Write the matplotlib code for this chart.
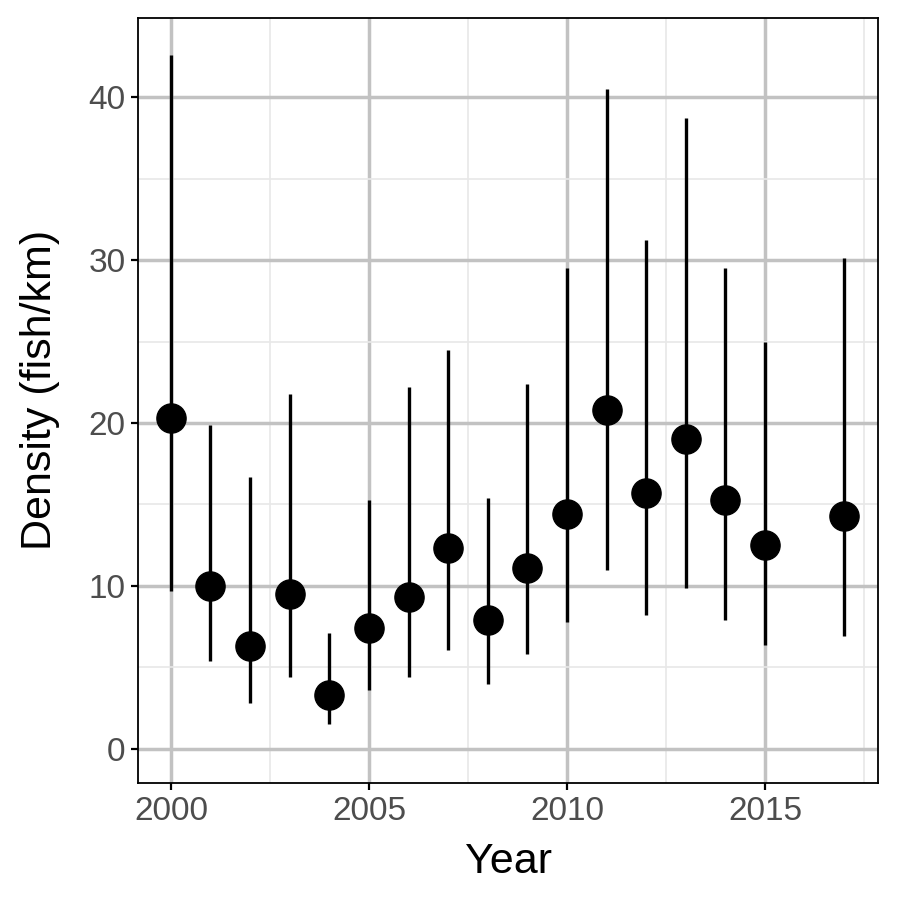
import matplotlib
matplotlib.use("Agg")
import matplotlib.pyplot as plt
from matplotlib.ticker import MultipleLocator

years = [2000, 2001, 2002, 2003, 2004, 2005, 2006, 2007, 2008, 2009, 2010, 2011, 2012, 2013, 2014, 2015, 2017]
density = [20.3, 10.0, 6.3, 9.5, 3.3, 7.4, 9.3, 12.3, 7.9, 11.1, 14.4, 20.8, 15.7, 19.0, 15.3, 12.5, 14.3]
upper = [42.6, 19.9, 16.7, 21.8, 7.1, 15.3, 22.2, 24.5, 15.4, 22.4, 29.5, 40.5, 31.2, 38.7, 29.5, 25.0, 30.1]
lower = [9.7, 5.4, 2.8, 4.4, 1.5, 3.6, 4.4, 6.1, 4.0, 5.8, 7.8, 11.0, 8.2, 9.9, 7.9, 6.4, 6.9]

plt.rcParams['font.family'] = ['Liberation Sans', 'DejaVu Sans']

fig = plt.figure(figsize=(8.99, 8.99), dpi=100)
ax = fig.add_axes([138/899, 1-783/899, 740/899, 765/899])

ax.vlines(years, lower, upper, color='black', linewidth=2.4, zorder=3)
ax.plot(years, density, 'o', color='black', markersize=21, zorder=4)

ax.set_xlim(1999.17, 2017.85)
ax.set_ylim(-2.09, 44.85)
ax.xaxis.set_major_locator(MultipleLocator(5))
ax.xaxis.set_minor_locator(MultipleLocator(2.5))
ax.yaxis.set_major_locator(MultipleLocator(10))
ax.yaxis.set_minor_locator(MultipleLocator(5))
ax.grid(which='major', color='#c2c2c2', linewidth=2.5, zorder=0)
ax.grid(which='minor', color='#e8e8e8', linewidth=1.2, zorder=0)
ax.set_axisbelow(True)
ax.tick_params(which='major', length=5, width=1.6, color='black', labelsize=24, labelcolor='#4d4d4d', pad=4)
ax.tick_params(which='minor', length=0)
for s in ax.spines.values():
    s.set_linewidth(1.3)
    s.set_color('black')

ax.set_xlabel('Year', fontsize=31, labelpad=11)
ax.set_ylabel('Density (fish/km)', fontsize=31)
ax.yaxis.set_label_coords(-0.105, 0.514)

fig.savefig('out.png', dpi=100, facecolor='white')
